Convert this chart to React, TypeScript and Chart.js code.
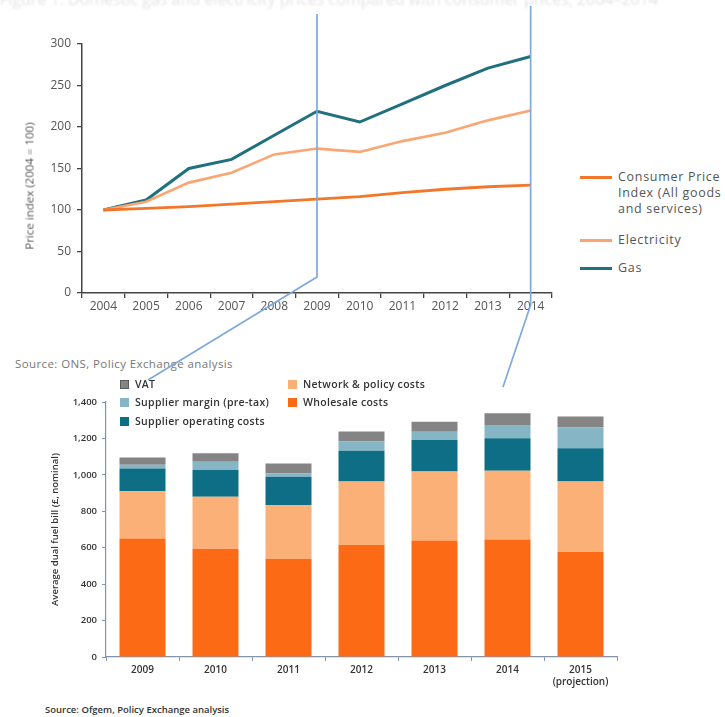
import React, { useEffect, useRef } from "react";
import { Chart, registerables } from "chart.js";

Chart.register(...registerables);

// Price indices, 2004 = 100
const years = ["2004", "2005", "2006", "2007", "2008", "2009", "2010", "2011", "2012", "2013", "2014"];
const cpiIndex = [100, 102, 104, 107, 110, 113, 116, 121, 125, 128, 130];
const electricityIndex = [100, 110, 133, 145, 167, 174, 170, 183, 193, 208, 220];
const gasIndex = [100, 112, 150, 161, 190, 219, 206, 228, 250, 271, 285];
const cpiLegendLines = ["Consumer Price", "Index (All goods", "and services)"];

// Average dual fuel bill breakdown (£, nominal)
const billYears = [["2009"], ["2010"], ["2011"], ["2012"], ["2013"], ["2014"], ["2015", "(projection)"]];
const wholesaleCosts = [650, 595, 540, 615, 640, 645, 578];
const networkPolicyCosts = [260, 285, 295, 348, 378, 378, 385];
const operatingCosts = [125, 147, 155, 170, 174, 178, 183];
const supplierMargin = [20, 45, 18, 50, 45, 73, 115];
const vatCosts = [40, 46, 55, 55, 55, 64, 59];

// Years in the price chart that the bill chart covers
const linkedYears = ["2009", "2014"];

const COLORS = {
  cpi: "#f3772a",
  electricity: "#fba672",
  gas: "#21707f",
  wholesale: "#fd6a16",
  network: "#fbb078",
  operating: "#0e6e85",
  margin: "#86b5c6",
  vat: "#848484",
  link: "#7fa8dd",
};

const TOP_FONT = "'Open Sans', 'DejaVu Sans', sans-serif";
const BAR_FONT = "'Open Sans', 'DejaVu Sans', sans-serif";

const barSeries = [
  { label: "Wholesale costs", data: wholesaleCosts, color: COLORS.wholesale },
  { label: "Network & policy costs", data: networkPolicyCosts, color: COLORS.network },
  { label: "Supplier operating costs", data: operatingCosts, color: COLORS.operating },
  { label: "Supplier margin (pre-tax)", data: supplierMargin, color: COLORS.margin },
  { label: "VAT", data: vatCosts, color: COLORS.vat },
];

const barLegendLeft = ["VAT", "Supplier margin (pre-tax)", "Supplier operating costs"];
const barLegendRight = ["Network & policy costs", "Wholesale costs"];

const colorOf = (name: string) => barSeries.find((s) => s.label === name)!.color;

export default function App() {
  const topRef = useRef<HTMLCanvasElement>(null);
  const barRef = useRef<HTMLCanvasElement>(null);
  const linkRef = useRef<HTMLCanvasElement>(null);

  useEffect(() => {
    document.body.style.margin = "0";
    document.body.style.overflow = "hidden";

    const axisGray = "#444";
    const top = new Chart(topRef.current!, {
      type: "line",
      data: {
        labels: years,
        datasets: [
          { label: "Consumer Price Index (All goods and services)", data: cpiIndex, borderColor: COLORS.cpi, borderWidth: 2.8 },
          { label: "Electricity", data: electricityIndex, borderColor: COLORS.electricity, borderWidth: 2.6 },
          { label: "Gas", data: gasIndex, borderColor: COLORS.gas, borderWidth: 3 },
        ].map((d) => ({ ...d, pointRadius: 0, tension: 0, fill: false })),
      },
      options: {
        animation: false,
        responsive: false,
        layout: { padding: { top: 44, right: 8, left: 0, bottom: 0 } },
        plugins: { legend: { display: false }, tooltip: { enabled: false } },
        scales: {
          x: {
            offset: true,
            grid: { offset: true, drawOnChartArea: false, drawTicks: true, tickLength: 5, color: axisGray, lineWidth: 1.3 },
            border: { color: axisGray, width: 1.5 },
            ticks: { font: { family: TOP_FONT, size: 12 }, color: "#555", padding: 1, maxRotation: 0, autoSkip: false },
            afterFit: (s: any) => { s.height = 27; },
          },
          y: {
            min: 0,
            max: 300,
            grid: { drawOnChartArea: false, drawTicks: true, tickLength: 5, color: axisGray, lineWidth: 1.3 },
            border: { color: axisGray, width: 1.5 },
            ticks: { stepSize: 50, font: { family: TOP_FONT, size: 12 }, color: "#555", padding: 6 },
            afterFit: (s: any) => { s.width = 82; },
          },
        },
      },
    });

    const barAxis = "#8494ab";
    const bars = new Chart(barRef.current!, {
      type: "bar",
      data: {
        labels: billYears,
        datasets: barSeries.map((s) => ({
          label: s.label,
          data: s.data,
          backgroundColor: s.color,
          borderWidth: 0,
          barPercentage: 0.63,
          categoryPercentage: 1,
        })),
      },
      options: {
        animation: false,
        responsive: false,
        layout: { padding: { top: 72, right: 23, left: 0, bottom: 0 } },
        plugins: { legend: { display: false }, tooltip: { enabled: false } },
        scales: {
          x: {
            stacked: true,
            grid: { offset: true, drawOnChartArea: false, drawTicks: true, tickLength: 4, color: barAxis },
            border: { color: barAxis, width: 1.2 },
            ticks: { font: { family: BAR_FONT, size: 10, weight: "600" }, color: "#333", padding: 3, maxRotation: 0, autoSkip: false },
            afterFit: (s: any) => { s.height = 43; },
          },
          y: {
            stacked: true,
            min: 0,
            max: 1400,
            grid: { drawOnChartArea: false, drawTicks: true, tickLength: 4, color: barAxis },
            border: { color: barAxis, width: 1.2 },
            ticks: { stepSize: 200, font: { family: BAR_FONT, size: 9.5, weight: "600" }, color: "#333", padding: 5 },
            title: {
              display: true,
              text: "Average dual fuel bill (£, nominal)",
              font: { family: BAR_FONT, size: 9.5, weight: "600" },
              color: "#333",
              padding: { top: 50, bottom: 0 },
            },
            afterFit: (s: any) => { s.width = 106; },
          },
        },
      },
    });

    // Connector lines from the price chart down to the bill chart
    const link = linkRef.current!;
    const ctx = link.getContext("2d")!;
    ctx.clearRect(0, 0, link.width, link.height);
    ctx.strokeStyle = COLORS.link;
    ctx.lineWidth = 1.7;
    ctx.lineJoin = "round";
    const xs = linkedYears.map((y) => top.scales.x.getPixelForValue(years.indexOf(y)));
    const bends = [
      { top: 14, knee: 277, endX: 148, endY: 380 },
      { top: 6, knee: 305, endX: 503, endY: 387 },
    ];
    xs.forEach((x, i) => {
      const b = bends[i];
      ctx.beginPath();
      ctx.moveTo(x, b.top);
      ctx.lineTo(x, b.knee);
      ctx.lineTo(b.endX, b.endY);
      ctx.stroke();
    });

    return () => {
      top.destroy();
      bars.destroy();
    };
  }, []);

  const legendText: React.CSSProperties = {
    position: "absolute",
    fontFamily: TOP_FONT,
    fontSize: 12.5,
    letterSpacing: 0.7,
    color: "#555",
    whiteSpace: "nowrap",
    lineHeight: "16px",
  };
  const barLegendText: React.CSSProperties = {
    position: "absolute",
    fontFamily: BAR_FONT,
    fontSize: 10.5,
    letterSpacing: 0.3,
    fontWeight: 600,
    color: "#333",
    whiteSpace: "nowrap",
    lineHeight: "12px",
  };

  const lineLegend = [
    { lines: cpiLegendLines, color: COLORS.cpi, y: 177 },
    { lines: ["Electricity"], color: COLORS.electricity, y: 240 },
    { lines: ["Gas"], color: COLORS.gas, y: 268 },
  ];

  return (
    <div style={{ position: "relative", width: 725, height: 717, overflow: "hidden", background: "#fff" }}>
      <div
        style={{
          position: "absolute",
          left: 0,
          top: -12,
          fontFamily: TOP_FONT,
          fontSize: 16,
          color: "#e4e4e4",
          whiteSpace: "nowrap",
          filter: "blur(0.8px)",
        }}
      >
        Figure 1: Domestic gas and electricity prices compared with consumer prices, 2004–2014
      </div>

      <canvas ref={topRef} width={560} height={320} style={{ position: "absolute", left: 0, top: 0 }} />

      <div
        style={{
          position: "absolute",
          left: 29,
          top: 186,
          transform: "translate(-50%, -50%) rotate(-90deg)",
          fontFamily: TOP_FONT,
          fontSize: 11.5,
          color: "#555",
          whiteSpace: "nowrap",
        }}
      >
        Price index (2004 = 100)
      </div>

      {lineLegend.map((item) => (
        <React.Fragment key={item.lines[0]}>
          <div
            style={{
              position: "absolute",
              left: 580,
              top: item.y - 1.5,
              width: 32,
              height: 3,
              background: item.color,
            }}
          />
          <div style={{ ...legendText, left: 618, top: item.y - 8 }}>
            {item.lines.map((l) => (
              <div key={l}>{l}</div>
            ))}
          </div>
        </React.Fragment>
      ))}

      <div
        style={{
          position: "absolute",
          left: 15,
          top: 356,
          fontFamily: TOP_FONT,
          fontSize: 11.5,
          letterSpacing: 0.4,
          color: "#777",
          whiteSpace: "nowrap",
        }}
      >
        Source: ONS, Policy Exchange analysis
      </div>

      <canvas ref={barRef} width={640} height={370} style={{ position: "absolute", left: 0, top: 330 }} />

      {[barLegendLeft, barLegendRight].map((col, ci) =>
        col.map((name, ri) => {
          const left = ci === 0 ? 120 : 288;
          const cy = [384, 402, 421][ri];
          return (
            <React.Fragment key={name}>
              <div
                style={{
                  position: "absolute",
                  left,
                  top: cy - 4.5,
                  width: 9,
                  height: 9,
                  background: colorOf(name),
                  boxSizing: "border-box",
                  border: name === "VAT" ? "1px solid #5c5c5c" : "none",
                }}
              />
              <div style={{ ...barLegendText, left: left + 15, top: cy - 6.5 }}>{name}</div>
            </React.Fragment>
          );
        })
      )}

      <div
        style={{
          position: "absolute",
          left: 45,
          top: 703,
          fontFamily: BAR_FONT,
          fontSize: 9.5,
          fontWeight: 600,
          color: "#333",
          whiteSpace: "nowrap",
        }}
      >
        Source: Ofgem, Policy Exchange analysis
      </div>

      <canvas
        ref={linkRef}
        width={725}
        height={717}
        style={{ position: "absolute", left: 0, top: 0, pointerEvents: "none" }}
      />
    </div>
  );
}
